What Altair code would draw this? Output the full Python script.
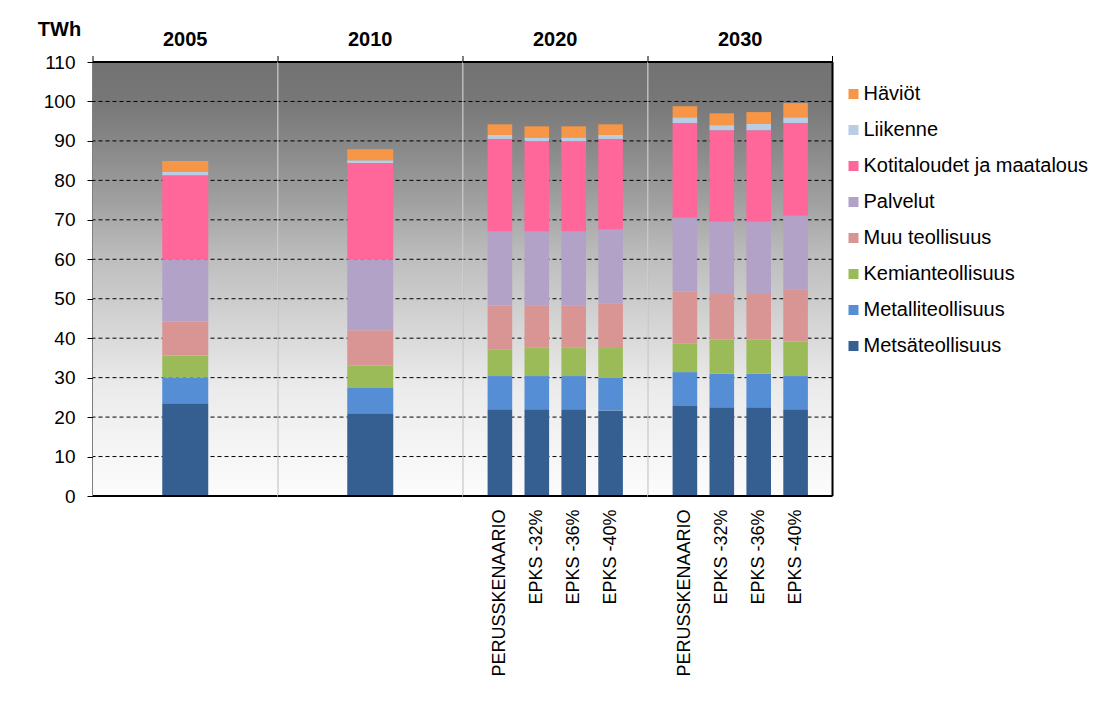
import altair as alt
import pandas as pd

FONT = "Liberation Sans"

YEARS = ["2005", "2010", "2020", "2030"]
SCENARIOS = ["PERUSSKENAARIO", "EPKS -32%", "EPKS -36%", "EPKS -40%"]
BAR_YEAR = ["2005", "2010"] + ["2020"] * 4 + ["2030"] * 4
BAR_SCEN = ["", ""] + SCENARIOS + SCENARIOS

SERIES = ["Metsäteollisuus", "Metalliteollisuus", "Kemianteollisuus", "Muu teollisuus",
          "Palvelut", "Kotitaloudet ja maatalous", "Liikenne", "Häviöt"]
COLORS = ["#355F91", "#558ED5", "#9BBB59", "#D99594",
          "#B2A2C7", "#FF6699", "#B9CDE5", "#F79646"]

metsa = [23.5, 21.0, 22.0, 22.0, 22.0, 21.7, 22.8, 22.5, 22.5, 22.0]
metalli = [6.5, 6.4, 8.4, 8.4, 8.4, 8.2, 8.6, 8.5, 8.5, 8.4]
kemian = [5.6, 5.6, 6.8, 7.3, 7.3, 7.6, 7.2, 8.7, 8.7, 8.8]
muu = [8.6, 9.0, 11.1, 10.5, 10.5, 11.2, 13.3, 11.5, 11.5, 13.2]
palvelut = [15.8, 18.0, 18.8, 18.9, 18.9, 18.9, 18.7, 18.4, 18.4, 18.7]
koti = [21.3, 24.4, 23.4, 22.8, 22.8, 22.9, 23.9, 23.1, 23.1, 23.4]
liikenne = [0.8, 0.7, 1.0, 1.0, 1.0, 1.0, 1.5, 1.3, 1.6, 1.5]
haviot = [2.8, 2.8, 2.7, 2.8, 2.8, 2.7, 2.8, 3.0, 3.0, 3.6]

Y_TICKS = list(range(0, 111, 10))
GRID_VALUES = list(range(10, 101, 10))

VALUES = [metsa, metalli, kemian, muu, palvelut, koti, liikenne, haviot]
rows = []
for s_idx, (name, vals) in enumerate(zip(SERIES, VALUES)):
    for b, v in enumerate(vals):
        rows.append({"year": BAR_YEAR[b], "scenario": BAR_SCEN[b],
                     "series": name, "value": v, "order": s_idx})
df = pd.DataFrame(rows)

W = 184.5
H = 434

LEGEND_DOMAIN = SERIES[::-1]
LEGEND_RANGE = COLORS[::-1]

gradient = alt.LinearGradient(
    gradient="linear", x1=0, x2=0, y1=0, y2=1,
    stops=[alt.GradientStop(offset=0, color="#727272"),
           alt.GradientStop(offset=0.09, color="#777777"),
           alt.GradientStop(offset=0.18, color="#868686"),
           alt.GradientStop(offset=0.32, color="#a0a0a0"),
           alt.GradientStop(offset=0.45, color="#bdbdbd"),
           alt.GradientStop(offset=0.6, color="#d4d4d4"),
           alt.GradientStop(offset=0.75, color="#ebebeb"),
           alt.GradientStop(offset=1, color="#fcfcfc")])


def one():
    return alt.Chart(alt.Data(values=[{}]))


def panel(year, idx):
    first = idx == 0
    last = idx == len(YEARS) - 1
    wide = year in ("2005", "2010")
    d = df[df.year == year]

    yscale = alt.Scale(domain=[0, 110], nice=False, zero=True)
    if first:
        yaxis = alt.Axis(values=Y_TICKS, title=None, grid=False, domain=True,
                         domainColor="black", domainWidth=2, tickColor="black",
                         tickSize=6, tickWidth=1, labelFontSize=19, labelFont=FONT,
                         labelColor="black", labelPadding=12)
    else:
        yaxis = None

    bg = one().mark_rect(fill=gradient).encode(
        x=alt.value(0), x2=alt.value(W), y=alt.value(0), y2=alt.value(H))

    grid = alt.Chart(pd.DataFrame({"v": GRID_VALUES})).mark_rule(
        color="black", strokeDash=[4, 3], strokeWidth=1).encode(
        y=alt.Y("v:Q", scale=yscale, axis=yaxis))

    # invisible spacer so every panel title sits at the same height
    spacer = one().mark_rule(strokeOpacity=0, color="white").encode(
        x=alt.value(W / 2), y=alt.value(-12), y2=alt.value(0))

    layers = [bg, grid, spacer]

    if not first:
        sep = one().mark_rule(color="#c0c0c0", strokeWidth=1).encode(
            x=alt.value(0), y=alt.value(0), y2=alt.value(H))
        layers.append(sep)

    if wide:
        xscale = alt.Scale(domain=[""], paddingInner=0, paddingOuter=0)
        xaxis = None
        mark_kw = {"size": 46}
    else:
        xscale = alt.Scale(domain=SCENARIOS, paddingInner=1 / 3, paddingOuter=2 / 3)
        xaxis = alt.Axis(title=None, labelAngle=-90, labelFontSize=18, labelFont=FONT,
                         labelColor="black", ticks=False, domain=False, labelPadding=13)
        mark_kw = {}

    legend = None
    if last:
        legend = alt.Legend(orient="none", legendX=W + 11, legendY=22, title=None,
                            symbolType="square", symbolSize=100, symbolStrokeWidth=0,
                            labelFontSize=20, labelFont=FONT, labelColor="black",
                            labelLimit=400, rowPadding=16, labelOffset=0, padding=0)

    bars = alt.Chart(d).mark_bar(**mark_kw).encode(
        x=alt.X("scenario:N", scale=xscale, axis=xaxis, sort=None),
        y=alt.Y("value:Q", stack="zero", scale=yscale, axis=yaxis),
        color=alt.Color("series:N",
                        scale=alt.Scale(domain=LEGEND_DOMAIN, range=LEGEND_RANGE),
                        legend=legend),
        order=alt.Order("order:Q"),
    )
    layers.append(bars)

    top = one().mark_rule(color="black", strokeWidth=2).encode(
        x=alt.value(0), x2=alt.value(W), y=alt.value(0))
    bottom = one().mark_rule(color="black", strokeWidth=2).encode(
        x=alt.value(0), x2=alt.value(W), y=alt.value(H))
    tick = one().mark_rule(color="black", strokeWidth=1).encode(
        x=alt.value(0), y=alt.value(-6), y2=alt.value(0))
    layers += [top, bottom, tick]
    if last:
        right = one().mark_rule(color="black", strokeWidth=2).encode(
            x=alt.value(W), y=alt.value(0), y2=alt.value(H))
        rtick = one().mark_rule(color="black", strokeWidth=1).encode(
            x=alt.value(W), y=alt.value(-6), y2=alt.value(0))
        layers += [right, rtick]

    return alt.layer(*layers).properties(
        width=W, height=H,
        title=alt.TitleParams(text=year, fontSize=20, fontWeight="bold", font=FONT,
                              color="black", anchor="middle", frame="group", offset=0),
    )


panels = [panel(y, i) for i, y in enumerate(YEARS)]

chart = alt.hconcat(*panels, spacing=0, bounds="flush").resolve_scale(
    color="independent", x="independent", y="independent"
).properties(
    title=alt.TitleParams(text="TWh", fontSize=20, fontWeight="bold", font=FONT,
                          color="black", anchor="start", dx=-5, dy=10, offset=0),
    padding={"left": 29, "top": 11, "right": 5, "bottom": 5},
).configure_view(stroke=None).configure(background="white")

chart.save("out.html", embed_options={"renderer": "svg", "actions": False})
